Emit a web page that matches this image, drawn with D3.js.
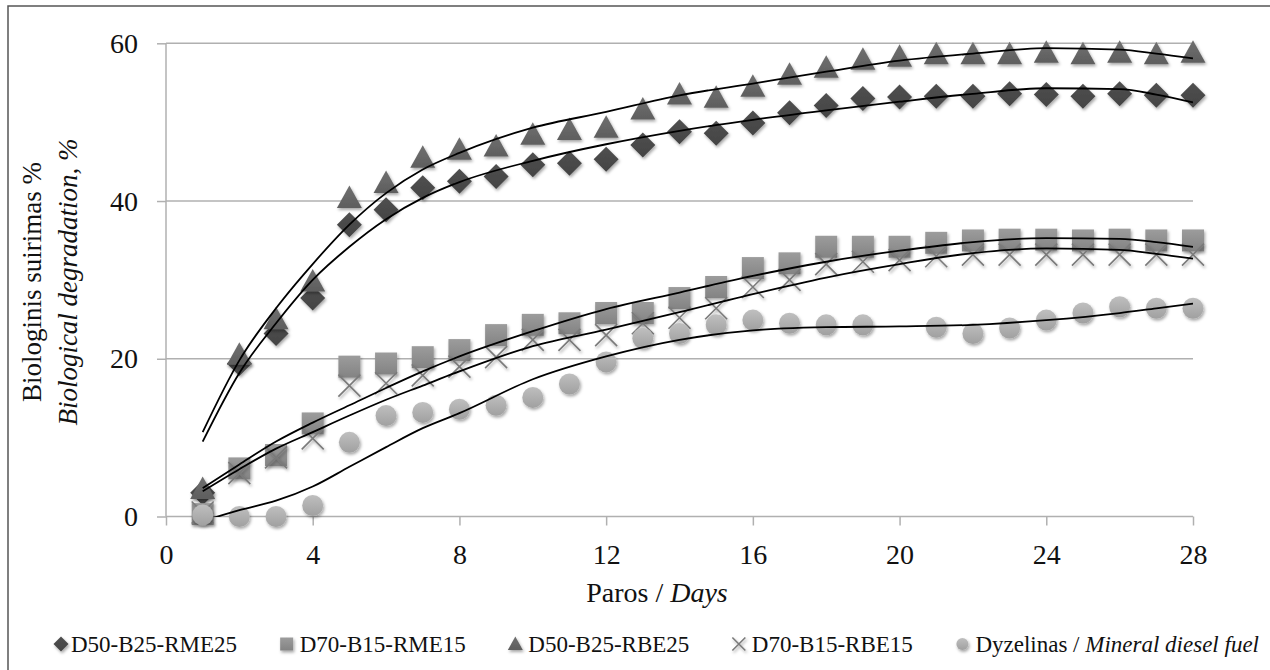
<!DOCTYPE html>
<html>
<head>
<meta charset="utf-8">
<script src="https://cdn.jsdelivr.net/npm/d3@7"></script>
<style>
  body { margin: 0; background: #fff; }
  svg { display: block; }
</style>
</head>
<body>
<svg width="1270" height="670"></svg>
<script>
// Datos (día 1..28)
const days = d3.range(1, 29);
const rme25 = [3.0, 19.4, 23.2, 27.7, 37.0, 38.9, 41.7, 42.5, 43.1, 44.6, 44.8, 45.3, 47.1, 48.8, 48.6, 49.9, 51.2, 52.1, 53.0, 53.2, 53.3, 53.3, 53.6, 53.5, 53.3, 53.6, 53.4, 53.4];
const rme15 = [0.3, 6.1, 7.8, 11.8, 19.0, 19.4, 20.2, 21.1, 23.0, 24.3, 24.5, 25.8, 25.8, 27.7, 29.1, 31.5, 32.1, 34.2, 34.2, 34.2, 34.7, 35.0, 35.1, 35.1, 35.0, 35.1, 35.0, 35.0];
const rbe25 = [3.5, 20.5, 25.0, 29.8, 40.4, 42.3, 45.5, 46.5, 46.9, 48.4, 49.0, 49.3, 51.6, 53.5, 53.1, 54.5, 56.0, 56.9, 57.9, 58.3, 58.6, 58.6, 58.6, 58.8, 58.6, 58.8, 58.6, 58.8];
const rbe15 = [0.5, 5.5, 7.5, 9.9, 16.6, 16.9, 17.9, 19.0, 20.2, 22.4, 22.4, 23.0, 24.5, 25.2, 26.4, 29.1, 30.0, 32.0, 32.3, 32.5, 33.0, 33.2, 33.2, 33.2, 33.2, 33.2, 33.2, 33.2];
const diesel = [0.2, 0, 0, 1.4, 9.4, 12.8, 13.2, 13.6, 14.1, 15.1, 16.8, 19.6, 22.6, 23.2, 24.3, 24.9, 24.5, 24.3, 24.3, null, 24.0, 23.2, 23.9, 24.9, 25.8, 26.6, 26.4, 26.4];

// Líneas de tendencia
const trendDays = [1, 2, 3, 4, 5, 6, 7, 8, 10, 12, 14, 16, 18, 20, 22, 24, 26, 27, 28];
const rme25Trend = [9.5, 18.2, 24.5, 30.0, 34.2, 37.7, 40.4, 42.4, 45.1, 47.2, 48.9, 50.3, 51.5, 52.6, 53.6, 54.3, 54.2, 53.5, 52.5];
const rme15Trend = [3.6, 6.6, 9.5, 11.9, 14.1, 16.3, 18.4, 20.3, 23.5, 26.3, 28.4, 30.5, 32.3, 33.7, 34.8, 35.3, 35.2, 34.8, 34.2];
const rbe25Trend = [10.7, 19.8, 26.4, 32.0, 37.0, 41.0, 44.0, 46.1, 49.3, 51.3, 53.4, 54.9, 56.4, 57.8, 58.7, 59.4, 59.2, 58.7, 58.1];
const rbe15Trend = [3.2, 6.0, 8.6, 10.7, 12.8, 14.8, 16.6, 18.4, 21.6, 23.7, 25.9, 28.2, 30.3, 32.0, 33.4, 34.0, 33.8, 33.3, 32.7];
const dieselTrend = [-0.6, 0.8, 2.0, 3.8, 6.3, 8.8, 11.2, 13.1, 17.4, 20.3, 22.4, 23.6, 24.0, 24.1, 24.3, 24.9, 25.8, 26.4, 27.0];

const xTicks = [0, 4, 8, 12, 16, 20, 24, 28];
const yTicks = [0, 20, 40, 60];

const series = [
  { id: "s1", name: "D50-B25-RME25", values: rme25, trend: rme25Trend, shape: "diamond", color: "#474747" },
  { id: "s2", name: "D70-B15-RME15", values: rme15, trend: rme15Trend, shape: "square", color: "#8a8a8a" },
  { id: "s3", name: "D50-B25-RBE25", values: rbe25, trend: rbe25Trend, shape: "triangle", color: "#636363" },
  { id: "s4", name: "D70-B15-RBE15", values: rbe15, trend: rbe15Trend, shape: "cross", color: "#7a7a7a" },
  { id: "s5", name: "Dyzelinas / ", italic: "Mineral diesel fuel", values: diesel, trend: dieselTrend, shape: "circle", color: "#a9a9a9" }
];

const FONT = '"Liberation Serif", "Times New Roman", serif';
const svg = d3.select("svg").style("font-family", FONT);

const x = d3.scaleLinear().domain([0, 28]).range([166, 1193]);
const y = d3.scaleLinear().domain([0, 60]).range([516.5, 43.3]);

// Marco exterior (solo visibles los bordes izquierdo y superior)
svg.append("rect")
  .attr("x", 8).attr("y", 6).attr("width", 1300).attr("height", 700)
  .attr("fill", "none").attr("stroke", "#555").attr("stroke-width", 1.5);

// Sombra y degradados de los marcadores
const defs = svg.append("defs");
defs.append("filter").attr("id", "shadow")
  .attr("x", "-50%").attr("y", "-50%").attr("width", "200%").attr("height", "200%")
  .append("feDropShadow")
  .attr("dx", 1.2).attr("dy", 2).attr("stdDeviation", 1.6)
  .attr("flood-color", "#000").attr("flood-opacity", 0.35);
series.forEach(sr => {
  const lg = defs.append("linearGradient").attr("id", "grad-" + sr.id)
    .attr("x1", 0).attr("y1", 0).attr("x2", 0).attr("y2", 1);
  lg.append("stop").attr("offset", "0%").attr("stop-color", d3.color(sr.color).brighter(0.35));
  lg.append("stop").attr("offset", "100%").attr("stop-color", d3.color(sr.color).darker(0.15));
});
defs.append("clipPath").attr("id", "plot")
  .append("rect").attr("x", x(0)).attr("y", y(60) - 5)
  .attr("width", x(28) - x(0)).attr("height", y(0) - y(60) + 5);

// Rejilla horizontal
svg.append("g").selectAll("line")
  .data(yTicks.filter(d => d > 0))
  .join("line")
  .attr("x1", x(0)).attr("x2", x(28))
  .attr("y1", d => y(d)).attr("y2", d => y(d))
  .attr("stroke", "#b0b0b0").attr("stroke-width", 1.5);

// Eje Y
const yAxis = svg.append("g")
  .attr("transform", `translate(${x(0)},0)`)
  .call(d3.axisLeft(y).tickValues(yTicks).tickSize(9).tickPadding(19));
yAxis.attr("font-family", null);
yAxis.selectAll("line, path").attr("stroke", "#b0b0b0").attr("stroke-width", 1.5);
yAxis.select(".domain").attr("d", `M0,${y(0)}V${y(60)}`);
yAxis.selectAll("text").attr("font-size", 28).attr("fill", "#111");

// Eje X
const xAxis = svg.append("g")
  .attr("transform", `translate(0,${y(0)})`)
  .call(d3.axisBottom(x).tickValues(xTicks).tickSize(9).tickPadding(19));
xAxis.attr("font-family", null);
xAxis.selectAll("line, path").attr("stroke", "#b0b0b0").attr("stroke-width", 1.5);
xAxis.select(".domain").attr("d", `M${x(0)},0H${x(28)}`);
xAxis.selectAll("text").attr("font-size", 28).attr("fill", "#111");

// Títulos de ejes
const xt = svg.append("text")
  .attr("x", 657).attr("y", 602)
  .attr("text-anchor", "middle").attr("font-size", 28).attr("fill", "#111");
xt.append("tspan").text("Paros / ");
xt.append("tspan").attr("font-style", "italic").text("Days");

svg.append("text")
  .attr("transform", "rotate(-90)")
  .attr("x", -282).attr("y", 41)
  .attr("text-anchor", "middle").attr("font-size", 27).attr("fill", "#111")
  .text("Biologinis suirimas %");
svg.append("text")
  .attr("transform", "rotate(-90)")
  .attr("x", -282).attr("y", 77)
  .attr("text-anchor", "middle").attr("font-size", 27).attr("font-style", "italic").attr("fill", "#111")
  .text("Biological degradation, %");

// Formas de marcador
function shapePath(shape, s) {
  const h = s / 2;
  if (shape === "diamond") return `M0,${-h}L${h},0L0,${h}L${-h},0Z`;
  if (shape === "square") return `M${-h},${-h}H${h}V${h}H${-h}Z`;
  if (shape === "triangle") return `M0,${-h}L${h},${h * 0.8}H${-h}Z`;
  if (shape === "cross") return `M${-h},${-h}L${h},${h}M${h},${-h}L${-h},${h}`;
  return d3.arc()({ innerRadius: 0, outerRadius: h, startAngle: 0, endAngle: 2 * Math.PI });
}
const markerSize = { diamond: 25, square: 22, triangle: 25, cross: 22, circle: 21 };

function drawMarker(g, sr, s) {
  const p = g.append("path").attr("d", shapePath(sr.shape, s));
  if (sr.shape === "cross") p.attr("fill", "none").attr("stroke", sr.color).attr("stroke-width", 1.6);
  else p.attr("fill", `url(#grad-${sr.id})`);
  return p;
}

// Puntos
series.forEach(sr => {
  const g = svg.append("g").attr("filter", "url(#shadow)");
  days.forEach((d, i) => {
    if (sr.values[i] == null) return;
    const m = g.append("g").attr("transform", `translate(${x(d)},${y(sr.values[i])})`);
    drawMarker(m, sr, markerSize[sr.shape]);
  });
});

// Líneas de tendencia
const trend = svg.append("g").attr("clip-path", "url(#plot)");
const line = d3.line().x((d, i) => x(trendDays[i])).y(d => y(d)).curve(d3.curveMonotoneX);
series.forEach(sr => {
  trend.append("path").attr("d", line(sr.trend))
    .attr("fill", "none").attr("stroke", "#000").attr("stroke-width", 1.8);
});

// Leyenda: primer texto en x=71, último termina en x≈1259
const legendFont = 23;
const legendSize = { diamond: 15, square: 13, triangle: 15, cross: 13, circle: 12 };
const legendItems = series.map(sr => {
  const t = svg.append("text").attr("y", 652).attr("font-size", legendFont).attr("fill", "#111");
  t.append("tspan").text(sr.name);
  if (sr.italic) t.append("tspan").attr("font-style", "italic").text(sr.italic);
  return { sr, t, w: t.node().getComputedTextLength() };
});
const firstText = 71, lastEnd = 1259, mGap = 13;
const totalW = d3.sum(legendItems, d => d.w) + mGap * 4;
const gap = (lastEnd - firstText - totalW) / 4;
let cx = firstText;
legendItems.forEach((it, i) => {
  const mx = cx - (i === 0 ? 10 : mGap);
  const m = svg.append("g").attr("filter", "url(#shadow)")
    .attr("transform", `translate(${mx},644)`);
  drawMarker(m, it.sr, legendSize[it.sr.shape]);
  it.t.attr("x", cx);
  cx += it.w + gap + mGap;
});
</script>
</body>
</html>
